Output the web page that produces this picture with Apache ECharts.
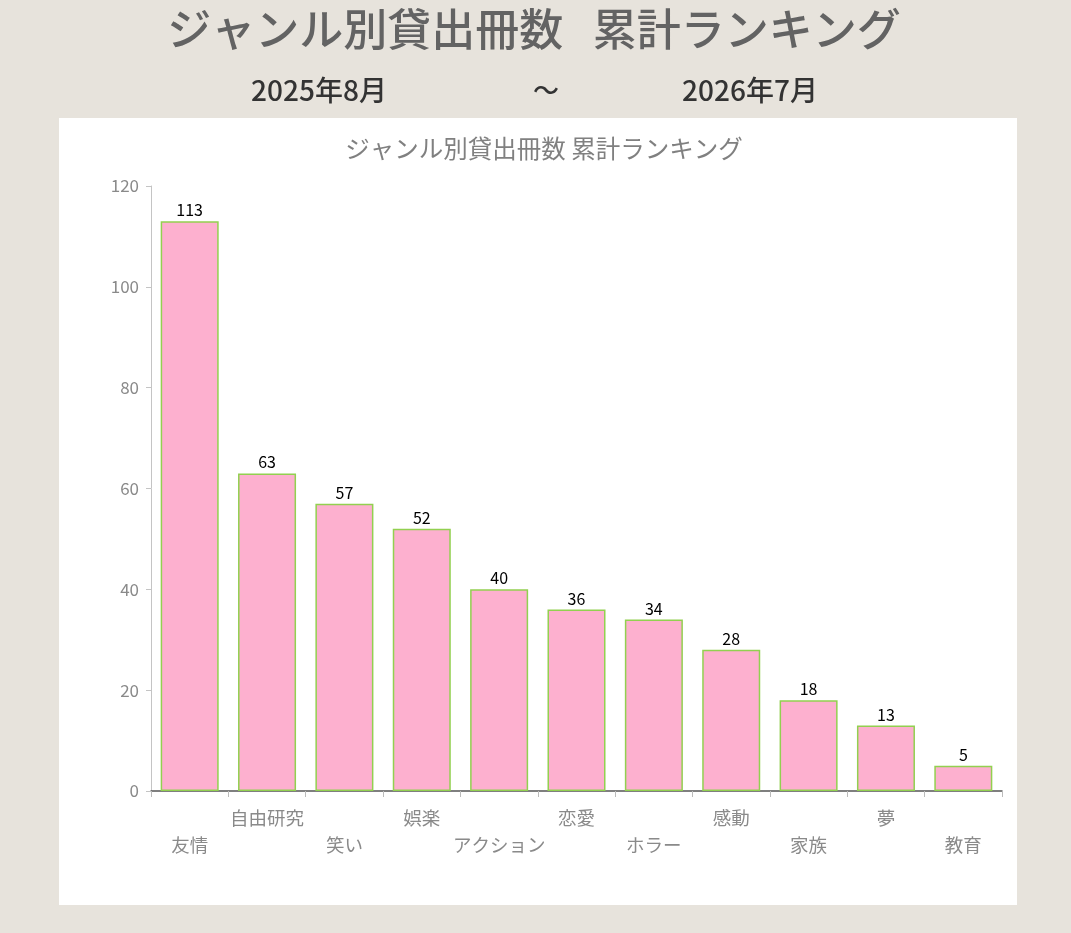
<!DOCTYPE html>
<html>
<head>
<meta charset="utf-8">
<script src="https://cdn.jsdelivr.net/npm/echarts@6/dist/echarts.min.js"></script>
<style>
html,body{margin:0;padding:0;background:#e7e3dc;}
#c{width:1071px;height:933px;}
</style>
</head>
<body>
<div id="c"></div>
<script>
const pageTitle = 'ジャンル別貸出冊数   累計ランキング';
const periodFrom = '2025年8月';
const periodSep = '～';
const periodTo = '2026年7月';
const chartTitle = 'ジャンル別貸出冊数 累計ランキング';
const categories = ['友情','自由研究','笑い','娯楽','アクション','恋愛','ホラー','感動','家族','夢','教育'];
const values = [113,63,57,52,40,36,34,28,18,13,5];
const yTicks = {min:0, max:120, interval:20};

const FONT = '"Noto Sans CJK JP", "Noto Sans", sans-serif';
const chart = echarts.init(document.getElementById('c'), null, {renderer:'canvas'});
chart.setOption({
  backgroundColor:'#e7e3dc',
  textStyle:{fontFamily:FONT},
  graphic:[
    {type:'rect', z:-10, shape:{x:59,y:118,width:958,height:787}, style:{fill:'#ffffff'}},
    {type:'text', x:534, y:29, style:{text:pageTitle, font:'500 44px ' + FONT, fill:'#636363', textAlign:'center', textVerticalAlign:'middle'}},
    {type:'text', x:319, y:90, style:{text:periodFrom, font:'500 28px ' + FONT, fill:'#333333', textAlign:'center', textVerticalAlign:'middle'}},
    {type:'text', x:546, y:90, style:{text:periodSep, font:'500 26px ' + FONT, fill:'#333333', textAlign:'center', textVerticalAlign:'middle'}},
    {type:'text', x:750, y:90, style:{text:periodTo, font:'500 28px ' + FONT, fill:'#333333', textAlign:'center', textVerticalAlign:'middle'}}
  ],
  title:{
    text:chartTitle, left:539, textAlign:'center', top:131,
    textStyle:{fontSize:24.5, fontWeight:'normal', color:'#808080', fontFamily:FONT}
  },
  grid:{left:151, right:69, top:186, bottom:142, containLabel:false},
  xAxis:{
    type:'category', data:categories,
    axisLine:{lineStyle:{color:'#555555', width:1.5}},
    axisTick:{show:true, alignWithLabel:false, length:6, lineStyle:{color:'#bbbbbb'}},
    axisLabel:{
      interval:0, margin:13, fontSize:18.5, lineHeight:27, color:'#8a8a8a',
      formatter:(v, i) => (i % 2 === 0 ? '\n' + v : v)
    }
  },
  yAxis:{
    type:'value', min:yTicks.min, max:yTicks.max, interval:yTicks.interval,
    axisLine:{show:true, lineStyle:{color:'#c4c4c4'}},
    axisTick:{show:true, length:5, lineStyle:{color:'#c4c4c4'}},
    splitLine:{show:false},
    axisLabel:{fontSize:17, color:'#8a8a8a', margin:12}
  },
  series:[{
    type:'bar', data:values, barCategoryGap:'25%',
    itemStyle:{color:'#fdb0cf', borderColor:'#92d050', borderWidth:1.5},
    label:{show:true, position:'top', distance:3, fontSize:16, color:'#000000'}
  }]
});
</script>
</body>
</html>
